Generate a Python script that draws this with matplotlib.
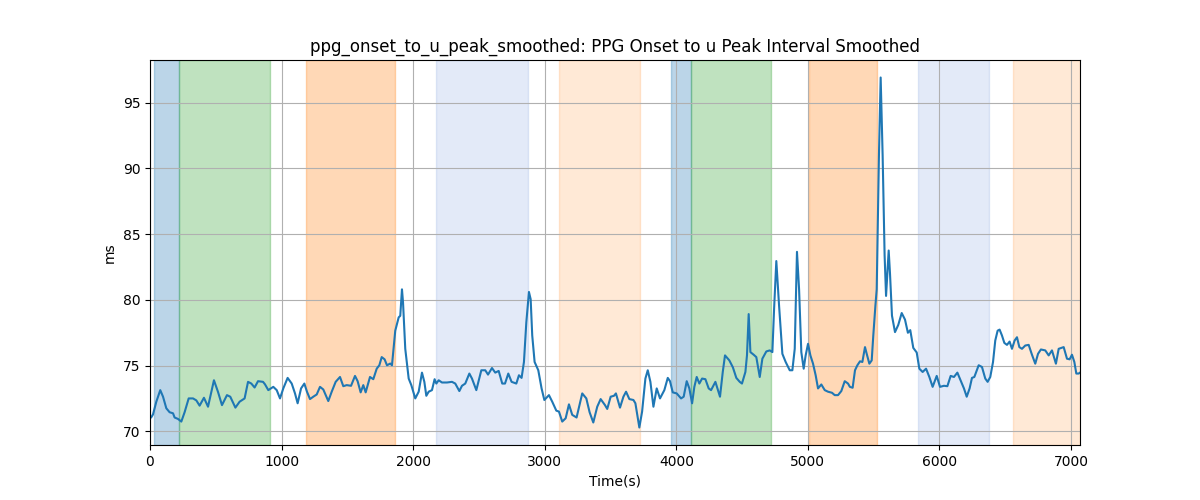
import matplotlib
matplotlib.use("Agg")
import matplotlib.pyplot as plt

title = "ppg_onset_to_u_peak_smoothed: PPG Onset to u Peak Interval Smoothed"
xlabel = "Time(s)"
ylabel = "ms"

time_s = [
    0, 10, 23, 48, 78, 99, 124, 149, 175, 187, 213, 238, 263, 294, 327, 352, 377, 410, 441,
    486, 517, 547, 585, 610, 649, 681, 719, 745, 770, 795, 821, 859, 874,
    899, 937, 963, 988, 1013, 1046, 1077, 1102, 1122, 1148, 1173, 1193, 1216, 1241, 1267,
    1292, 1317, 1355, 1381, 1411, 1444, 1469, 1495, 1528, 1558, 1578, 1601, 1621, 1639,
    1672, 1697, 1723, 1743, 1761,
    1783, 1801, 1826, 1839, 1864, 1890, 1902, 1915, 1923, 1940, 1966, 1986, 2016, 2042,
    2067, 2085, 2100, 2118, 2143, 2163, 2176, 2194, 2219, 2257, 2295, 2320, 2351, 2371,
    2396, 2427, 2447, 2480, 2518, 2548, 2569, 2599, 2624, 2650,
    2677, 2698, 2723, 2748, 2784, 2804, 2824, 2842, 2860, 2880, 2893, 2905, 2923, 2951,
    2976, 2997, 3032, 3057, 3088, 3108, 3133, 3159, 3184, 3209, 3242, 3285, 3316, 3341,
    3369, 3399, 3425, 3458, 3475, 3501, 3526, 3541,
    3572, 3598, 3618, 3643, 3674, 3689, 3719, 3740, 3765, 3783, 3803, 3826, 3851, 3876,
    3909, 3935, 3952, 3973, 4003, 4036, 4056, 4079, 4099, 4120, 4137, 4155, 4175, 4196,
    4221, 4246, 4264, 4297, 4332, 4353, 4370, 4403, 4430,
    4456, 4482, 4499, 4525, 4537, 4550, 4563, 4588, 4608, 4634, 4654, 4684, 4710, 4730,
    4743, 4760, 4781, 4806, 4831, 4862, 4882, 4900, 4917, 4933, 4950, 4968, 4983, 5001,
    5019, 5039, 5059, 5077, 5102, 5128, 5153, 5183, 5204, 5229, 5254, 5280, 5305, 5319,
    5340, 5358, 5376, 5396, 5414, 5434, 5447, 5467, 5485, 5497, 5513, 5523, 5540, 5553,
    5568, 5583, 5594, 5604, 5614, 5624, 5639, 5662, 5687, 5713, 5738, 5760, 5778, 5801,
    5827, 5847, 5872, 5898, 5923, 5948, 5979, 6004, 6034, 6060, 6085, 6110, 6136, 6163,
    6186, 6207,
    6229, 6247, 6265, 6298, 6323, 6348, 6366, 6386, 6407, 6424, 6442, 6457, 6475, 6493,
    6513, 6533, 6551, 6571, 6589, 6607, 6627, 6652, 6678, 6703, 6728, 6749, 6771, 6804,
    6830, 6855, 6885, 6906, 6944, 6969, 6989, 7007, 7025, 7040, 7058, 7068,
]

interval_ms = [
    71.0, 71.08, 71.3, 72.26, 73.14, 72.64, 71.76, 71.46, 71.38, 71.06, 70.95, 70.75, 71.46,
    72.51, 72.51, 72.36, 71.96, 72.56, 71.88, 73.89, 73.0, 72.0, 72.76, 72.64, 71.81, 72.26,
    72.51, 73.77, 73.64, 73.34, 73.82, 73.77, 73.58,
    73.14, 73.39, 73.14, 72.51, 73.27, 74.07, 73.64, 72.89, 72.14, 73.27, 73.64, 73.02,
    72.46, 72.64, 72.81, 73.39, 73.19, 72.31, 73.02, 73.77, 74.14, 73.44, 73.52, 73.47,
    74.22, 73.82, 72.97, 73.52, 72.97, 74.14, 73.97, 74.77, 75.03, 75.65,
    75.48, 75.03, 75.16, 75.03, 77.66, 78.67, 78.79, 80.8, 79.8, 76.28, 74.02, 73.52,
    72.51, 73.02, 74.47, 73.77, 72.71, 73.02, 73.14, 73.97, 73.64, 73.89, 73.72, 73.72,
    73.77, 73.64, 73.07, 73.47, 73.64, 74.4, 74.02, 73.14, 74.65, 74.65, 74.32, 74.82,
    74.47, 74.6,
    73.64, 73.64, 74.4, 73.77, 73.64, 74.27, 74.07, 75.28, 78.29, 80.6, 80.05, 77.29,
    75.28, 74.65, 73.27, 72.39, 72.76, 72.26, 71.58, 71.51, 70.75, 71.0, 72.06, 71.26,
    71.06, 72.89, 72.51, 71.46, 70.68, 71.88, 72.46, 72.0, 71.71, 72.64, 72.71, 72.89,
    71.81, 72.64, 73.02, 72.46, 72.39, 72.14, 70.3, 71.51, 74.02, 74.65, 73.77, 71.88,
    73.27, 72.51, 73.14, 74.07, 73.82, 72.97, 72.89, 72.51, 72.64, 73.82, 73.27, 72.14,
    73.39, 74.14, 73.64, 74.02, 73.97, 73.27, 73.14, 73.77, 72.64, 74.52, 75.78, 75.4,
    74.87,
    74.07, 73.77, 73.64, 74.52, 75.78, 78.92, 76.03, 75.83, 75.65, 74.14, 75.53, 76.08,
    76.16, 76.03, 79.3, 82.95, 79.55, 75.9, 75.28, 74.65, 74.65, 76.28, 83.65, 80.8,
    76.03, 74.77, 75.78, 76.66, 75.78, 75.15, 74.27, 73.27, 73.57, 73.14, 73.02, 72.94,
    72.76, 72.76, 73.07, 73.82, 73.64, 73.39,
    73.32, 74.65, 75.03, 75.33, 75.28, 76.41, 75.9, 75.15, 75.4, 77.29, 79.55, 80.8,
    91.0, 96.9, 91.0, 83.4, 80.3, 82.1, 83.75, 82.0, 78.8, 77.55, 78.1, 79.0, 78.5,
    77.5, 77.7, 76.35, 76.0, 74.77, 74.52, 74.77, 74.14, 73.39, 74.22, 73.39, 73.47,
    73.44, 74.22, 74.14, 74.47, 73.82, 73.27, 72.64,
    73.27, 74.07, 74.14, 75.03, 74.9, 74.02, 73.77, 74.14, 75.28, 76.91, 77.66, 77.74,
    77.29, 76.73, 76.58, 76.83, 76.28, 76.91, 77.16, 76.41, 76.28, 76.53, 76.58, 75.83,
    75.15, 75.9, 76.23, 76.16, 75.78, 76.16, 75.15, 76.28, 76.41, 75.53, 75.48, 75.83,
    75.28, 74.4, 74.4, 74.47,
]

span_starts = [30, 223, 1186, 2174, 3109, 3960, 4114, 5011, 5837, 6562]
span_ends = [223, 910, 1862, 2870, 3724, 4114, 4718, 5523, 6374, 7068]
span_colors = ["tab:blue", "tab:green", "tab:orange", "#3f6fd0", "tab:orange",
               "tab:blue", "tab:green", "tab:orange", "#3f6fd0", "tab:orange"]
span_alphas = [0.3, 0.3, 0.3, 0.14, 0.17, 0.3, 0.3, 0.3, 0.14, 0.17]

fig, ax = plt.subplots(figsize=(12, 5), dpi=100)
for s, e, c, a in zip(span_starts, span_ends, span_colors, span_alphas):
    ax.axvspan(s, e, color=c, alpha=a)
ax.plot(time_s, interval_ms, color="tab:blue", linewidth=1.5)
ax.set_xlim(time_s[0], time_s[-1])
ax.set_title(title)
ax.set_xlabel(xlabel)
ax.set_ylabel(ylabel)
ax.grid(True)
fig.savefig("out.png", dpi=100)
